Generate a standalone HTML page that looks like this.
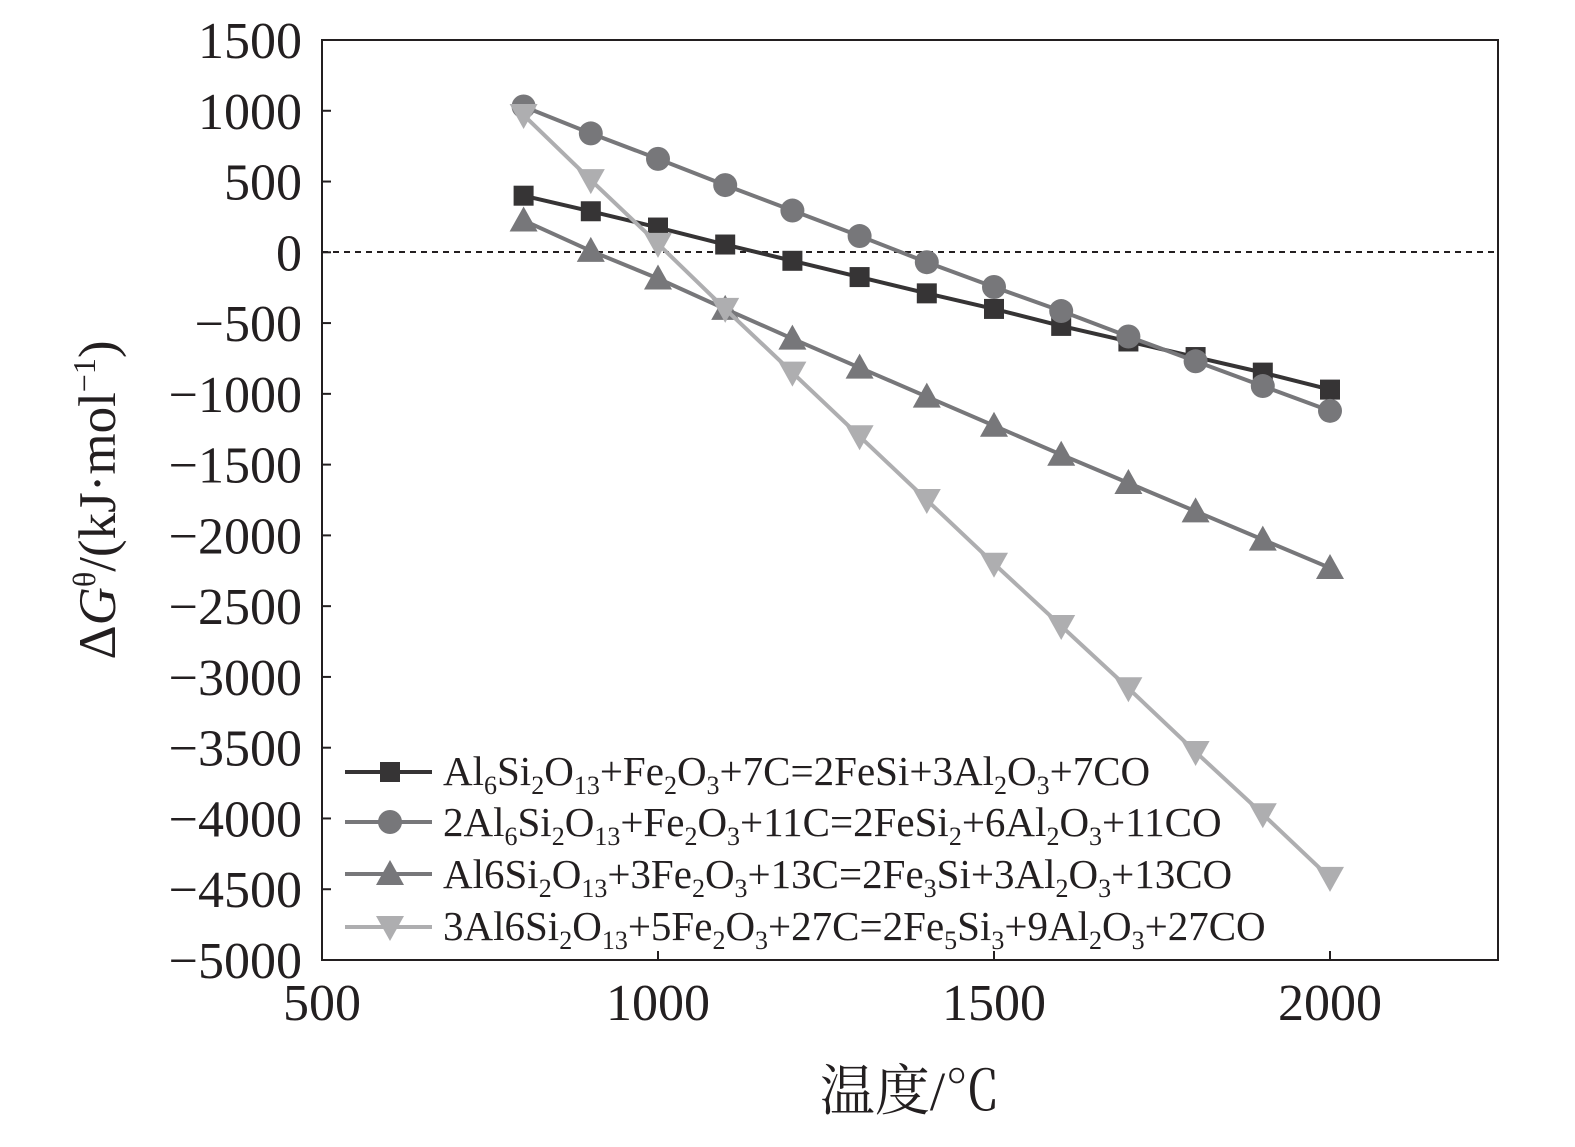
<!DOCTYPE html>
<html><head><meta charset="utf-8"><style>
html,body{margin:0;padding:0;background:#fff;}
svg text{font-family:"Liberation Serif","Noto Serif CJK SC",serif;fill:#231f20;}
</style></head><body>
<svg id="s" width="1575" height="1142" viewBox="0 0 1575 1142" xmlns="http://www.w3.org/2000/svg">
<rect x="322" y="40" width="1176" height="920" fill="none" stroke="#231f20" stroke-width="2"/>
<line x1="322" y1="252" x2="1498" y2="252" stroke="#231f20" stroke-width="2" stroke-dasharray="6,5"/>
<g id="ticks"></g>
<g id="series"></g>
<text x="0" y="0" font-size="53" text-anchor="middle" transform="translate(115,500) rotate(-90)">Δ<tspan font-style="italic">G</tspan><tspan font-size="32" dy="-20">θ</tspan><tspan dy="20">/(kJ·mol</tspan><tspan font-size="32" dy="-20">−1</tspan><tspan dy="20">)</tspan></text>
<text x="910" y="1110" font-size="55" text-anchor="middle">温度/℃</text>
<g font-size="41">
<text x="443" y="785">Al<tspan font-size="26" dy="9">6</tspan><tspan dy="-9">Si</tspan><tspan font-size="26" dy="9">2</tspan><tspan dy="-9">O</tspan><tspan font-size="26" dy="9">13</tspan><tspan dy="-9">+Fe</tspan><tspan font-size="26" dy="9">2</tspan><tspan dy="-9">O</tspan><tspan font-size="26" dy="9">3</tspan><tspan dy="-9">+7C=2FeSi+3Al</tspan><tspan font-size="26" dy="9">2</tspan><tspan dy="-9">O</tspan><tspan font-size="26" dy="9">3</tspan><tspan dy="-9">+7CO</tspan></text>
<text x="443" y="836">2Al<tspan font-size="26" dy="9">6</tspan><tspan dy="-9">Si</tspan><tspan font-size="26" dy="9">2</tspan><tspan dy="-9">O</tspan><tspan font-size="26" dy="9">13</tspan><tspan dy="-9">+Fe</tspan><tspan font-size="26" dy="9">2</tspan><tspan dy="-9">O</tspan><tspan font-size="26" dy="9">3</tspan><tspan dy="-9">+11C=2FeSi</tspan><tspan font-size="26" dy="9">2</tspan><tspan dy="-9">+6Al</tspan><tspan font-size="26" dy="9">2</tspan><tspan dy="-9">O</tspan><tspan font-size="26" dy="9">3</tspan><tspan dy="-9">+11CO</tspan></text>
<text x="443" y="888">Al6Si<tspan font-size="26" dy="9">2</tspan><tspan dy="-9">O</tspan><tspan font-size="26" dy="9">13</tspan><tspan dy="-9">+3Fe</tspan><tspan font-size="26" dy="9">2</tspan><tspan dy="-9">O</tspan><tspan font-size="26" dy="9">3</tspan><tspan dy="-9">+13C=2Fe</tspan><tspan font-size="26" dy="9">3</tspan><tspan dy="-9">Si+3Al</tspan><tspan font-size="26" dy="9">2</tspan><tspan dy="-9">O</tspan><tspan font-size="26" dy="9">3</tspan><tspan dy="-9">+13CO</tspan></text>
<text x="443" y="940">3Al6Si<tspan font-size="26" dy="9">2</tspan><tspan dy="-9">O</tspan><tspan font-size="26" dy="9">13</tspan><tspan dy="-9">+5Fe</tspan><tspan font-size="26" dy="9">2</tspan><tspan dy="-9">O</tspan><tspan font-size="26" dy="9">3</tspan><tspan dy="-9">+27C=2Fe</tspan><tspan font-size="26" dy="9">5</tspan><tspan dy="-9">Si</tspan><tspan font-size="26" dy="9">3</tspan><tspan dy="-9">+9Al</tspan><tspan font-size="26" dy="9">2</tspan><tspan dy="-9">O</tspan><tspan font-size="26" dy="9">3</tspan><tspan dy="-9">+27CO</tspan></text>
</g>
</svg>
<script>
var NS="http://www.w3.org/2000/svg";
function X(v){return 322+(v-500)*336/500;}
function Y(v){return 40+(1500-v)*(920/6500);}
function el(p,t,a){var e=document.createElementNS(NS,t);for(var k in a)e.setAttribute(k,a[k]);p.appendChild(e);return e;}
var tk=document.getElementById("ticks");
for(var v=1500;v>=-5000;v-=500){var y=Y(v);el(tk,"line",{x1:322,x2:331,y1:y,y2:y,stroke:"#231f20","stroke-width":2});
var t=el(tk,"text",{x:302,y:y+18,"font-size":52,"text-anchor":"end"});t.textContent=(v<0?"−"+(-v):v);}
for(var v=500;v<=2000;v+=500){var x=X(v);el(tk,"line",{x1:x,x2:x,y1:960,y2:951,stroke:"#231f20","stroke-width":2});
var t=el(tk,"text",{x:x,y:1020,"font-size":52,"text-anchor":"middle"});t.textContent=v;}
var S=[
{c:"#363435",m:"sq",d:[400,290,175,55,-60,-175,-290,-400,-520,-630,-740,-850,-970]},
{c:"#77777a",m:"ci",d:[1030,840,660,475,295,115,-70,-245,-415,-595,-770,-945,-1120]},
{c:"#77777a",m:"tu",d:[225,10,-185,-400,-610,-815,-1020,-1225,-1430,-1630,-1830,-2030,-2230]},
{c:"#aeaeb0",m:"td",d:[970,510,60,-400,-850,-1300,-1750,-2200,-2640,-3080,-3530,-3970,-4420]}];
var g=document.getElementById("series");
function mk(m,x,y,c){
if(m=="sq")el(g,"rect",{x:x-10,y:y-10,width:20,height:20,fill:c});
else if(m=="ci")el(g,"circle",{cx:x,cy:y,r:12,fill:c});
else if(m=="tu")el(g,"polygon",{points:(x-14)+","+(y+11)+" "+(x+14)+","+(y+11)+" "+x+","+(y-14),fill:c});
else el(g,"polygon",{points:(x-14)+","+(y-11)+" "+(x+14)+","+(y-11)+" "+x+","+(y+14),fill:c});}
S.forEach(function(s,i){var p=s.d.map(function(v,j){return X(800+100*j)+","+Y(v);}).join(" ");
el(g,"polyline",{points:p,fill:"none",stroke:s.c,"stroke-width":4});
s.d.forEach(function(v,j){mk(s.m,X(800+100*j),Y(v),s.c);});
var ly=[772,822,874,927][i];el(g,"line",{x1:345,x2:432,y1:ly,y2:ly,stroke:s.c,"stroke-width":4});mk(s.m,390,ly,s.c);});
</script>
</body></html>
